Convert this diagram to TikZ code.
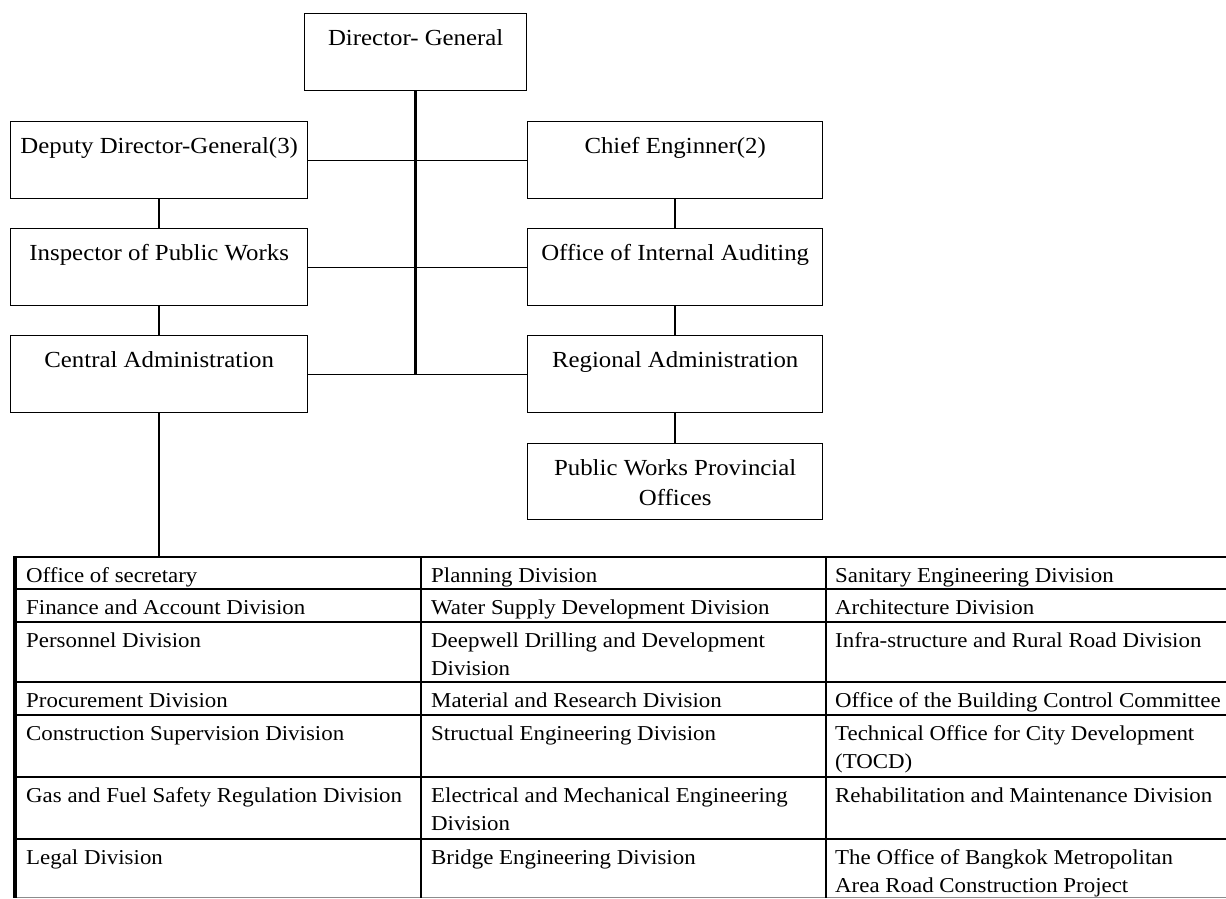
\documentclass[tikz,border=0pt]{standalone}
\usepackage{fontspec}
\setmainfont{Liberation Serif}[FakeStretch=1.08]

% text inside an org box: fixed-size parbox, first baseline 32pt below the top
\newcommand{\orgtext}[3]{\parbox[c][#2][t]{#1}{\centering\rule{0pt}{32pt}#3}}
% text inside a table cell: top-aligned, baseline of first line is the node base
\newcommand{\celltext}[1]{\parbox[t]{395pt}{\raggedright #1}}

\begin{document}
\begin{tikzpicture}[x=1pt,y=-1pt,
  orgbox/.style={draw=black, line width=1.4pt, inner sep=0pt, anchor=north west,
                 font=\fontsize{23}{30}\selectfont},
  trunk/.style={line width=2.6pt},
  hlink/.style={line width=1.1pt},
  vlink/.style={line width=2.2pt},
  cell/.style={inner sep=0pt, anchor=base west, font=\fontsize{21.2}{28}\selectfont},
  rowrule/.style={line width=1.1pt},
  colrule/.style={line width=2.4pt},
]
\useasboundingbox (0,0) rectangle (1226,898);

% ---- organisation boxes ----
\node[orgbox] (dg)    at (304,13)  {\orgtext{222pt}{77pt}{Director- General}};
\node[orgbox] (ddg)   at (10,121)  {\orgtext{297pt}{77pt}{Deputy Director-General(3)}};
\node[orgbox] (insp)  at (10,228)  {\orgtext{297pt}{77pt}{Inspector of Public Works}};
\node[orgbox] (cadm)  at (10,335)  {\orgtext{297pt}{77pt}{Central Administration}};
\node[orgbox] (chief) at (527,121) {\orgtext{295pt}{77pt}{Chief Enginner(2)}};
\node[orgbox] (audit) at (527,228) {\orgtext{295pt}{77pt}{Office of Internal Auditing}};
\node[orgbox] (radm)  at (527,335) {\orgtext{295pt}{77pt}{Regional Administration}};
\node[orgbox] (prov)  at (527,443) {\orgtext{295pt}{76pt}{Public Works Provincial\\Offices}};

% ---- connectors ----
\draw[trunk] (dg.south) -- (dg.south |- cadm.east);
\draw[hlink] (ddg.east) -- (chief.west);
\draw[hlink] (insp.east) -- (audit.west);
\draw[hlink] (cadm.east) -- (radm.west);
\draw[vlink] (ddg.south) -- (insp.north);
\draw[vlink] (insp.south) -- (cadm.north);
\draw[vlink] (chief.south) -- (audit.north);
\draw[vlink] (audit.south) -- (radm.north);
\draw[vlink] (radm.south) -- (prov.north);

\coordinate (tabtop) at (15,557);
\draw[vlink] (cadm.south) -- (cadm.south |- tabtop);

% ---- division table ----
\draw[line width=2.4pt] (14,557) -- (1226,557);
\foreach \y in {589,622,682,715,777,839}
  \draw[rowrule] (15,\y) -- (1226,\y);
\draw[line width=0.6pt, black!45] (15,897) -- (1226,897);
\draw[line width=3.2pt] (15,556) -- (15,898);
\draw[colrule] (421,557) -- (421,898);
\draw[colrule] (826,557) -- (826,898);

% first column
\node[cell] (a1) at (26,582) {\celltext{Office of secretary}};
\node[cell] (a2) at (26,614) {\celltext{Finance and Account Division}};
\node[cell] (a3) at (26,647) {\celltext{Personnel Division}};
\node[cell] (a4) at (26,707) {\celltext{Procurement Division}};
\node[cell] (a5) at (26,740) {\celltext{Construction Supervision Division}};
\node[cell] (a6) at (26,802) {\celltext{Gas and Fuel Safety Regulation Division}};
\node[cell] (a7) at (26,864) {\celltext{Legal Division}};

% second column
\node[cell] (b1) at (431,582) {\celltext{Planning Division}};
\node[cell] (b2) at (431,614) {\celltext{Water Supply Development Division}};
\node[cell] (b3) at (431,647) {\celltext{Deepwell Drilling and Development\\Division}};
\node[cell] (b4) at (431,707) {\celltext{Material and Research Division}};
\node[cell] (b5) at (431,740) {\celltext{Structual Engineering Division}};
\node[cell] (b6) at (431,802) {\celltext{Electrical and Mechanical Engineering\\Division}};
\node[cell] (b7) at (431,864) {\celltext{Bridge Engineering Division}};

% third column
\node[cell] (c1) at (835,582) {\celltext{Sanitary Engineering Division}};
\node[cell] (c2) at (835,614) {\celltext{Architecture Division}};
\node[cell] (c3) at (835,647) {\celltext{Infra-structure and Rural Road Division}};
\node[cell] (c4) at (835,707) {\celltext{Office of the Building Control Committee}};
\node[cell] (c5) at (835,740) {\celltext{Technical Office for City Development\\(TOCD)}};
\node[cell] (c6) at (835,802) {\celltext{Rehabilitation and Maintenance Division}};
\node[cell] (c7) at (835,864) {\celltext{The Office of Bangkok Metropolitan\\Area Road Construction Project}};
\end{tikzpicture}
\end{document}
